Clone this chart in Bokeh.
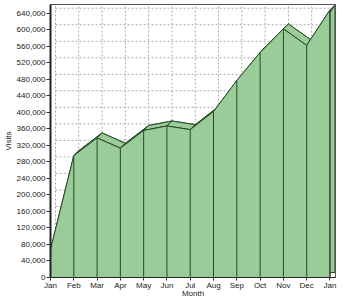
from bokeh.plotting import figure
from bokeh.models import FixedTicker, NumeralTickFormatter, Range1d
from bokeh.embed import file_html
from bokeh.resources import INLINE

months = ["Jan", "Feb", "Mar", "Apr", "May", "Jun", "Jul", "Aug", "Sep", "Oct", "Nov", "Dec", "Jan"]
visits = [68000, 295000, 338000, 313000, 356000, 367000, 358000, 402000, 477000, 545000, 602000, 562000, 648000]
y_ticks = list(range(0, 640001, 40000))

xs = list(range(len(months)))
n = len(months) - 1
DX = 0.215      # depth offset (category units)
DY = 12000      # depth offset (value units)
Y_MAX = 661000
X_MAX = n + 0.237

FILL = "#99cc99"
EDGE = "#2a472a"
FONT = "Liberation Sans"

p = figure(width=344, height=300, output_backend="svg", toolbar_location=None,
           x_range=Range1d(0, X_MAX), y_range=Range1d(0, Y_MAX),
           min_border_left=50, min_border_right=9, min_border_top=4, min_border_bottom=23)
p.xgrid.visible = False
p.ygrid.visible = False
p.background_fill_color = "white"
p.border_fill_color = "white"
p.outline_line_color = "#555555"

# back-wall grid lines
p.segment(x0=[DX] * len(y_ticks), y0=[v + DY for v in y_ticks],
          x1=[n + DX] * len(y_ticks), y1=[v + DY for v in y_ticks],
          line_color="#aaaaaa", line_dash="2 2", line_width=1)
p.segment(x0=[i + DX for i in xs], y0=[DY] * len(xs),
          x1=[i + DX for i in xs], y1=[Y_MAX] * len(xs),
          line_color="#aaaaaa", line_dash="2 2", line_width=1)

# back face of the area
p.patch([i + DX for i in xs] + [n + DX, DX], [v + DY for v in visits] + [DY, DY],
        fill_color=FILL, line_color=EDGE, line_width=1)

# top strips
strip_x, strip_y = [], []
for i in range(n):
    strip_x.append([xs[i], xs[i + 1], xs[i + 1] + DX, xs[i] + DX])
    strip_y.append([visits[i], visits[i + 1], visits[i + 1] + DY, visits[i] + DY])
p.patches(strip_x, strip_y, fill_color=FILL, line_color=EDGE, line_width=1)

# front face
p.patch(xs + [n, 0], visits + [0, 0], fill_color=FILL, line_color=EDGE, line_width=1)
p.segment(x0=xs, y0=[0] * len(xs), x1=xs, y1=visits, line_color=EDGE, line_width=1)

# axes
p.yaxis.ticker = FixedTicker(ticks=y_ticks)
p.yaxis.formatter = NumeralTickFormatter(format="0,0")
p.xaxis.ticker = FixedTicker(ticks=xs)
p.xaxis.major_label_overrides = {i: m for i, m in enumerate(months)}
p.xaxis.axis_label = "Month"
p.yaxis.axis_label = "Visits"
for ax in (p.xaxis[0], p.yaxis[0]):
    ax.major_label_text_font = FONT
    ax.major_label_text_font_size = "8px"
    ax.major_label_text_color = "#222222"
    ax.axis_label_text_font = FONT
    ax.axis_label_text_font_size = "8px"
    ax.axis_label_text_font_style = "normal"
    ax.axis_label_text_color = "#222222"
    ax.axis_line_color = "#222222"
    ax.major_tick_line_color = "#333333"
    ax.minor_tick_line_color = None
    ax.major_tick_in = 0
p.yaxis.major_tick_out = 4
p.yaxis.major_label_standoff = 1
p.yaxis.axis_label_standoff = 1
p.yaxis.axis_line_width = 2
p.xaxis.major_tick_out = 3
p.xaxis.major_label_standoff = 0
p.xaxis.axis_label_standoff = -4

open("out.html", "w").write(file_html(p, INLINE))
